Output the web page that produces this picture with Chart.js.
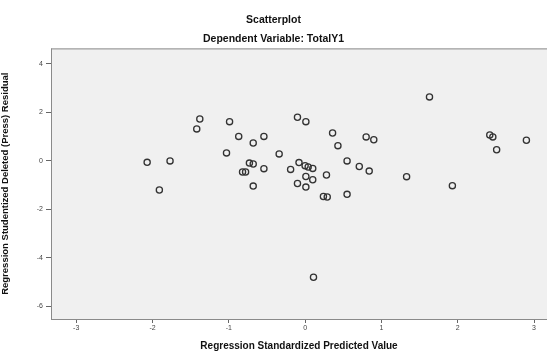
<!DOCTYPE html>
<html>
<head>
<meta charset="utf-8">
<script src="https://cdn.jsdelivr.net/npm/chart.js@4/dist/chart.umd.min.js"></script>
<style>
  html, body { margin: 0; padding: 0; background: #ffffff; }
  #wrap { width: 547px; height: 352px; }
</style>
</head>
<body>
<div id="wrap"><canvas id="scatter"></canvas></div>
<script>
// standardized predicted value (x) and studentized deleted residual (y)
const predicted = [
    -2.07, -1.77, -1.91, -1.38, -1.42, -0.99, -0.87, -0.68, -0.54, -1.03,
    -0.34, -0.73, -0.68, -0.82, -0.78, -0.54, -0.68, -0.19, -0.10, -0.08,
    -0.10, 0.01, 0.36, 0.43, 0.80, 0.90, 1.63, 2.42, 2.46, 2.51,
    2.90, 0.00, 0.04, 0.10, 0.01, 0.10, 0.01, 0.28, 0.55, 0.71,
    0.84, 1.33, 1.93, 0.24, 0.29, 0.55, 0.11
];
const residual = [
    -0.07, -0.01, -1.21, 1.72, 1.31, 1.61, 1.00, 0.73, 1.00, 0.32,
    0.28, -0.10, -0.14, -0.47, -0.47, -0.33, -1.05, -0.36, 1.79, -0.08,
    -0.94, 1.61, 1.14, 0.62, 0.98, 0.86, 2.63, 1.06, 0.98, 0.45,
    0.84, -0.21, -0.26, -0.32, -0.65, -0.79, -1.09, -0.59, -0.01, -0.24,
    -0.43, -0.66, -1.03, -1.48, -1.50, -1.39, -4.81
];
const xTicks = [-3, -2, -1, 0, 1, 2, 3];
const yTicks = [-6, -4, -2, 0, 2, 4];

const points = predicted.map((x, i) => ({ x: x, y: residual[i] }));

// grey plot background with a frame, like the SPSS output
const plotFrame = {
    id: 'plotFrame',
    beforeDatasetsDraw(chart) {
        const a = chart.chartArea;
        const ctx = chart.ctx;
        ctx.save();
        ctx.fillStyle = '#f0f0f0';
        ctx.fillRect(a.left, a.top, a.right - a.left, a.bottom - a.top);
        ctx.strokeStyle = '#8a8a8a';
        ctx.lineWidth = 1;
        ctx.strokeRect(a.left + 0.5, a.top + 0.5, a.right - a.left, a.bottom - a.top);
        ctx.restore();
    }
};

const tickFont = { family: "'Liberation Sans', Arial, sans-serif", size: 7 };
const titleFont = { family: "'Liberation Sans', Arial, sans-serif", size: 10, weight: 'bold' };

new Chart(document.getElementById('scatter').getContext('2d'), {
    type: 'scatter',
    data: {
        datasets: [{
            data: points,
            pointStyle: 'circle',
            pointRadius: 3.1,
            pointBorderWidth: 1.3,
            borderColor: '#333333',
            backgroundColor: 'rgba(0,0,0,0)'
        }]
    },
    plugins: [plotFrame],
    options: {
        responsive: true,
        maintainAspectRatio: false,
        animation: false,
        layout: { padding: 0, autoPadding: false },
        plugins: {
            legend: { display: false },
            tooltip: { enabled: false },
            title: {
                display: true,
                text: 'Scatterplot',
                color: '#111',
                font: { family: "'Liberation Sans', Arial, sans-serif", size: 10.5, weight: 'bold' },
                padding: { top: 14, bottom: 6 }
            },
            subtitle: {
                display: true,
                text: 'Dependent Variable: TotalY1',
                color: '#111',
                font: { family: "'Liberation Sans', Arial, sans-serif", size: 10.5, weight: 'bold' },
                padding: { top: 0, bottom: 3.2 }
            }
        },
        scales: {
            x: {
                type: 'linear',
                min: -3.33,
                max: 3.17,
                afterBuildTicks: (s) => { s.ticks = xTicks.map(v => ({ value: v })); },
                afterFit: (s) => { s.height = 33; s.paddingLeft = 0; s.paddingRight = 0; },
                grid: { drawOnChartArea: false, drawTicks: true, tickLength: 4, color: '#666' },
                border: { display: true, color: '#8a8a8a' },
                ticks: { font: tickFont, color: '#444', padding: 1, maxRotation: 0 },
                title: {
                    display: true,
                    text: 'Regression Standardized Predicted Value',
                    color: '#111',
                    font: titleFont,
                    padding: { top: 2, bottom: 0 }
                }
            },
            y: {
                type: 'linear',
                min: -6.53,
                max: 4.63,
                afterBuildTicks: (s) => { s.ticks = yTicks.map(v => ({ value: v })); },
                afterFit: (s) => { s.width = 51; },
                grid: { drawOnChartArea: false, drawTicks: true, tickLength: 5, color: '#666' },
                border: { display: true, color: '#8a8a8a' },
                ticks: { font: tickFont, color: '#444', padding: 3 },
                title: {
                    display: true,
                    text: 'Regression Studentized Deleted (Press) Residual',
                    color: '#111',
                    font: { family: "'Liberation Sans', Arial, sans-serif", size: 9.5, weight: 'bold' },
                    padding: { top: 0, bottom: 5 }
                }
            }
        }
    }
});
</script>
</body>
</html>
